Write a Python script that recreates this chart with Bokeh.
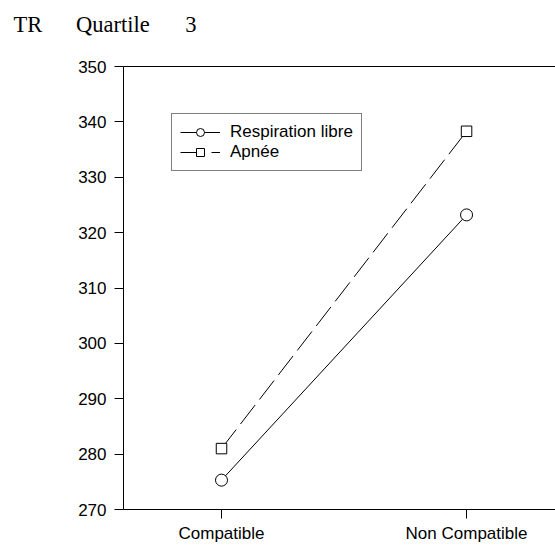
from bokeh.plotting import figure
from bokeh.models import Range1d, FixedTicker, LinearAxis, Legend, LegendItem, Title
from bokeh.embed import file_html
from bokeh.resources import INLINE

# ---- data ----
categories = ["Compatible", "Non Compatible"]
resp_libre = [275.3, 323.2]
apnee = [281.0, 338.3]
y_ticks = [270, 280, 290, 300, 310, 320, 330, 340, 350]
title_parts = ["TR", "Quartile", "3"]
series_names = ["Respiration libre", "Apnée"]

x = list(range(len(categories)))

gaps = ["\u2002\u2002\u2002", "\u2002\u2002\u2002\u200a"]
title_text = (title_parts[0] + gaps[0] + title_parts[1] + gaps[1] + title_parts[2]
              + "\n\u00a0")

p = figure(width=555, height=545, output_backend="svg", toolbar_location=None,
           x_range=Range1d(-0.4, 1.363), y_range=Range1d(270, 350),
           min_border_left=123, min_border_right=0, min_border_top=66,
           min_border_bottom=36)
p.outline_line_color = None
p.xgrid.grid_line_color = None
p.ygrid.grid_line_color = None
p.background_fill_color = "white"
p.border_fill_color = "white"

p.title = Title(text=title_text, align="left", offset=-110, standoff=0,
                text_line_height=1.2,
                text_font="Liberation Serif", text_font_size="22.5px",
                text_font_style="normal", text_color="black")

# axes
p.xaxis.ticker = FixedTicker(ticks=x)
p.xaxis.major_label_overrides = {i: c for i, c in enumerate(categories)}
p.yaxis.ticker = FixedTicker(ticks=y_ticks)
for ax in (p.xaxis[0], p.yaxis[0]):
    ax.axis_line_color = "black"
    ax.axis_line_width = 1
    ax.major_tick_line_color = "black"
    ax.major_tick_out = 9
    ax.major_tick_in = 0
    ax.minor_tick_line_color = None
    ax.major_label_text_font = "Liberation Sans"
    ax.major_label_text_font_size = "17px"
    ax.major_label_text_color = "black"
    ax.major_label_standoff = 8
p.xaxis[0].major_label_standoff = 5

top = LinearAxis(ticker=FixedTicker(ticks=[]), axis_line_color="black",
                 major_tick_line_color=None, minor_tick_line_color=None,
                 major_label_text_font_size="0px")
p.add_layout(top, "above")

# series
l1 = p.line(x, resp_libre, line_color="black", line_width=1)
l2 = p.line(x, apnee, line_color="black", line_width=1, line_dash="24 7")
m1 = p.scatter(x, resp_libre, marker="circle", size=12, fill_color="white",
               line_color="black", line_width=1)
m2 = p.scatter(x, apnee, marker="square", size=10.5, fill_color="white",
               line_color="black", line_width=1)

legend = Legend(items=[LegendItem(label=series_names[0], renderers=[l1, m1]),
                       LegendItem(label=series_names[1], renderers=[l2, m2])],
                location=(48, 338), padding=8, spacing=0, margin=0,
                glyph_width=40, glyph_height=20, label_height=20,
                label_standoff=10, border_line_color="black", border_line_width=1,
                background_fill_color="white", background_fill_alpha=1,
                label_text_font="Liberation Sans", label_text_font_size="17px",
                label_text_color="black")
p.add_layout(legend, "center")

open("out.html", "w").write(file_html(p, INLINE))
